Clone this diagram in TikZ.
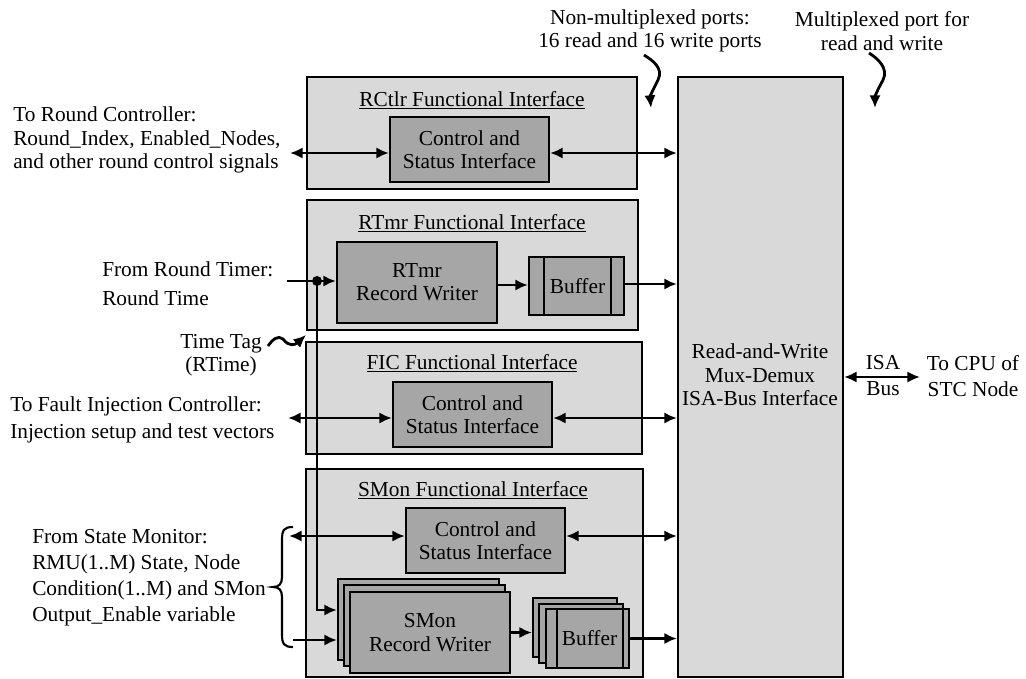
\documentclass[tikz,border=0pt]{standalone}
\usepackage{fontspec}
\setmainfont{Liberation Serif}
\usetikzlibrary{arrows.meta,fit,calc}
\begin{document}
\begin{tikzpicture}[x=0.75pt,y=-0.75pt,
  font=\fontsize{16}{17.5}\selectfont,
  panel/.style={draw, line width=1.6pt, fill=black!15, inner sep=0pt, align=center},
  block/.style={draw, line width=1.6pt, fill=black!35, inner sep=0pt, align=center},
  txt/.style={inner sep=0pt, align=center},
  ltxt/.style={inner sep=0pt, align=left, anchor=west},
  wire/.style={line width=2.1pt},
  conn/.style={line width=2.1pt, -{Latex[length=9.5pt,width=8.5pt]}},
  dconn/.style={line width=2.1pt, {Latex[length=9.5pt,width=8.5pt]}-{Latex[length=9.5pt,width=8.5pt]}},
]
\useasboundingbox (0,0) rectangle (1026,679);

% ---------------- bus interface ----------------
\node[panel, fit={(678,77)(843,677)}] (isa) {};
\node[txt] (isaT) at (760,375) {Read-and-Write\\Mux-Demux\\ISA-Bus Interface};

% ---------------- RCtlr functional interface ----------------
\node[panel, fit={(307,77)(637,189)}] (rctlr) {};
\node[txt] (rctlrT) at (472,100) {\underline{RCtlr Functional Interface}};
\node[block, fit={(390,117)(549,182)}] (rcsi) {};
\node[txt] (rcsiT) at (rcsi.center) {Control and\\Status Interface};

% ---------------- RTmr functional interface ----------------
\node[panel, fit={(307,200)(638,330)}] (rtmr) {};
\node[txt] (rtmrT) at (472,223) {\underline{RTmr Functional Interface}};
\node[block, fit={(337,242)(497,323)}] (rtw) {};
\node[txt] (rtwT) at (rtw.center) {RTmr\\Record Writer};
\node[block, fit={(529,257)(624,315)}] (rbuf) {};
\draw[line width=1.6pt] ($(rbuf.north west)+(16,0)$) -- ($(rbuf.south west)+(16,0)$);
\draw[line width=1.6pt] ($(rbuf.north east)+(-14,0)$) -- ($(rbuf.south east)+(-14,0)$);
\node[txt] (rbufT) at ($(rbuf.center)+(1,0)$) {Buffer};

% ---------------- FIC functional interface ----------------
\node[panel, fit={(306,342)(642,454)}] (fic) {};
\node[txt] (ficT) at (472,363) {\underline{FIC Functional Interface}};
\node[block, fit={(393,382)(552,447)}] (fcsi) {};
\node[txt] (fcsiT) at (fcsi.center) {Control and\\Status Interface};

% ---------------- SMon functional interface ----------------
\node[panel, fit={(306,469)(643,677)}] (smon) {};
\node[txt] (smonT) at (473,490) {\underline{SMon Functional Interface}};
\node[block, fit={(406,508)(565,573)}] (scsi) {};
\node[txt] (scsiT) at (scsi.center) {Control and\\Status Interface};
% stacked record writers
\node[block, fit={(338,579)(499,660)}] (smwA) {};
\node[block, fit={(344,585)(505,666)}] (smwB) {};
\node[block, fit={(350,592)(510,673)}] (smwC) {};
\node[txt] (smwT) at (smwC.center) {SMon\\Record Writer};
% stacked buffers
\node[block, fit={(533,598)(617,657)}] (smbA) {};
\node[block, fit={(539,604)(623,663)}] (smbB) {};
\node[block, fit={(546,609)(629,668)}] (smbC) {};
\draw[line width=1.6pt] ($(smbC.north west)+(12,0)$) -- ($(smbC.south west)+(12,0)$);
\draw[line width=1.6pt] ($(smbC.north east)+(-7,0)$) -- ($(smbC.south east)+(-7,0)$);
\node[txt] (smbT) at ($(smbC.center)+(2,0)$) {Buffer};

% ---------------- outside labels ----------------
\node[txt] (nonmux) at (650,31) {Non-multiplexed ports:\\16 read and 16 write ports};
\node[txt] (mux) at (882,31) {Multiplexed port for\\read and write};
\node[ltxt] (rcLbl) at (13,140) {To Round Controller:\\Round\_Index, Enabled\_Nodes,\\and other round control signals};
\node[ltxt] (rtLbl) at (102,284) {From Round Timer:\\[4pt]Round Time};
\node[txt] (tagLbl) at (221,355) {Time Tag\\(RTime)};
\node[ltxt] (ficLbl) at (10,420) {To Fault Injection Controller:\\[3pt]Injection setup and test vectors};
\node[ltxt] (smLbl) at (32,578) {From State Monitor:\\[2pt]RMU(1..M) State, Node\\[2pt]Condition(1..M) and SMon\\[2pt]Output\_Enable variable};
\node[txt] (isaLbl) at (883,363) {ISA};
\node[txt] (busLbl) at (883,389) {Bus};
\node[txt] (cpuLbl) at (973,363) {To CPU of};
\node[txt] (stcLbl) at (973,389) {STC Node};

% ---------------- free ends ----------------
\coordinate (rcL) at (290,153);
\coordinate (rtIn) at (287,281);
\coordinate (tap) at (317,281);
\coordinate (ficL) at (288,418);
\coordinate (smL) at (289,536);
\coordinate (smB) at (293,640);
\coordinate (cpu) at (920,377);

% ---------------- connectors ----------------
\draw[dconn] (rcL) -- (rcL -| rcsi.west);
\draw[dconn] (rcL -| rcsi.east) -- (rcL -| isa.west);

\draw[wire] (rtIn) -- (tap);
\draw[conn] (tap) -- (tap -| rtw.west);
\fill (tap) circle (5);
\draw[conn] (rtw.east |- 0,285) -- (rbuf.west |- 0,285);
\draw[conn] (rbuf.east |- 0,284) -- (isa.west |- 0,284);
\draw[conn] (tap) |- (smwA.west |- 0,610);

\draw[dconn] (ficL) -- (ficL -| fcsi.west);
\draw[dconn] (ficL -| fcsi.east) -- (ficL -| isa.west);

\draw[dconn] (smL) -- (smL -| scsi.west);
\draw[dconn] (smL -| scsi.east) -- (smL -| isa.west);
\draw[conn] (smB) -- (smB -| smwA.west);
\draw[conn] (smwC.east) -- (smwC.east -| smbA.west);
\draw[conn] (smbC.east) -- (smbC.east -| isa.west);

\draw[dconn] (isa.east |- cpu) -- (cpu);

% pointer squiggles
\draw[conn] (644,55) .. controls (652,60) and (664,68) .. (658,80)
  .. controls (653,90) and (650,96) .. (651,108);
\draw[conn] (869,53) .. controls (877,58) and (889,68) .. (883,80)
  .. controls (877,91) and (875,96) .. (875,108);
\draw[conn] (268,346) .. controls (273,339) and (278,335) .. (283,339)
  .. controls (289,347) and (295,345) .. (306,335);

% brace grouping the state monitor signals
\draw[line width=1.6pt] (293,527) .. controls (284,527) and (282,530) .. (282,540)
  -- (282,577) .. controls (282,584) and (279,587) .. (273,587)
  .. controls (279,587) and (282,590) .. (282,597)
  -- (282,634) .. controls (282,644) and (284,647) .. (293,647);
\end{tikzpicture}
\end{document}
